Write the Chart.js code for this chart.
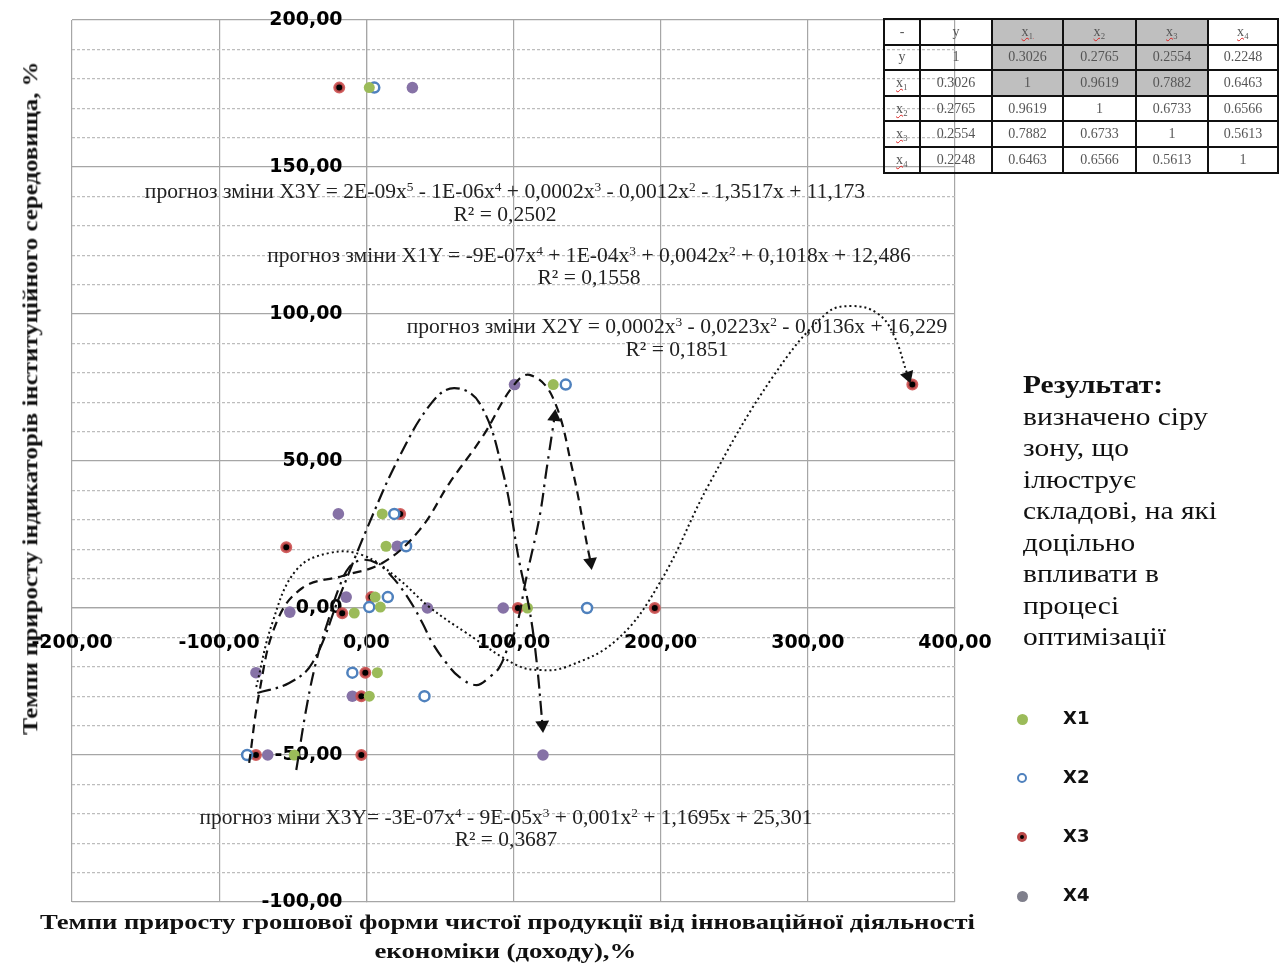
<!DOCTYPE html>
<html><head><meta charset="utf-8">
<script src="https://cdn.jsdelivr.net/npm/chart.js@4.4.1/dist/chart.umd.min.js"></script>
<style>
html,body{margin:0;padding:0;background:#fff;}
#wrap{position:relative;width:1285px;height:963px;overflow:hidden;}
#c{position:absolute;left:0;top:0;}
.eq{position:absolute;font-family:"Liberation Serif","Times New Roman",serif;font-size:18px;color:#222;white-space:nowrap;line-height:22px;transform:translate(-50%,-50%);}
.eq sup{font-size:0.62em;vertical-align:0.55em;line-height:0;}
.ttl{position:absolute;font-family:"Liberation Serif","Times New Roman",serif;font-weight:bold;font-size:22px;color:#111;white-space:nowrap;line-height:26px;}
#res{position:absolute;left:1023px;top:369px;font-family:"Liberation Serif","Times New Roman",serif;font-size:26px;line-height:31.5px;color:#111;white-space:nowrap;transform-origin:0 0;}
#res b{font-weight:bold;}
.lg{position:absolute;font-family:"DejaVu Sans",sans-serif;font-weight:bold;font-size:18px;color:#111;}
.mk{position:absolute;border-radius:50%;box-sizing:border-box;}
#tbl{position:absolute;left:883px;top:18px;border-collapse:collapse;font-family:"Liberation Serif","Times New Roman",serif;font-size:14px;color:#555;}
#tbl td{border:2px solid #111;text-align:center;padding:0;height:23.6px;}
#tbl td.g{background:#BFBFBF;}
.sp{text-decoration:underline wavy #d22;text-decoration-thickness:1px;}
</style></head>
<body><div id="wrap">
<canvas id="c" width="1285" height="963"></canvas>
</div>
<script>
// ---- data ----
const xTickLabels = [-200, -100, 0, 100, 200, 300, 400];
const yTickLabels = [-100, -50, 0, 50, 100, 150, 200];
const yMinorStep = 10;

const x1X = [2, 127, 10.8, 13.4, 6, -8.2, 9.5, 109.5, 7.5, 2, -49];
const x1Y = [177, 76, 32, 21, 3.7, -1.7, 0.3, 0, -22, -30, -50];
const x2X = [5.4, 135.5, 19, 27, 14.6, 2, 150, -9.5, 39.5, -81];
const x2Y = [177, 76, 32, 21, 3.7, 0.3, 0, -22, -30, -50];
const x3X = [-18.4, 371, 23, -54.4, 3.4, -16.4, 103, 196, -0.7, -3.4, -75, -3.4];
const x3Y = [177, 76, 32, 20.7, 3.7, -1.8, 0, 0, -22, -30, -50, -50];
const x4X = [31.3, 100.7, -19, 21, -13.7, -52, 41.5, 93, -75, -9.5, -67, 120];
const x4Y = [177, 76, 32, 21, 3.7, -1.4, 0, 0, -22, -30, -50, -50];

// hand-drawn forecast curves
const curveDotX = [-74.8, -63.9, -47.6, -25.2, -2.7, 20.4, 42.9, 68, 102, 117.7, 136, 170, 199.3, 233.3, 276.2, 312.9, 330.6, 347, 357.8, 368];
const curveDotY = [-26.9, -5.1, 12.9, 18.7, 18, 10.5, 0.3, -8.5, -19.4, -21.1, -20, -10.9, 8.5, 42.5, 78.6, 100.3, 102.7, 100.3, 93.5, 78.9];
const curveDashDotX = [-74.1, -52.4, -36.7, -18.4, 0, 22.4, 44.9, 59.9, 76.9, 92.5, 104.1, 110.9, 115.6, 119.7];
const curveDashDotY = [-28.9, -25.5, -18.7, 3.7, 26.5, 51.4, 70.1, 74.8, 69.7, 46.9, 15.3, -0.7, -17.7, -39.8];
const curveDashX = [-79.6, -72.8, -61.2, -43.5, -16.3, 10.9, 36.1, 56.5, 78.9, 99.3, 110.9, 126.5, 140.1, 150.3, 152.4];
const curveDashY = [-52.7, -28.9, -5.1, 6.8, 10.9, 15.3, 26.5, 42.5, 58.2, 75.2, 79.3, 71.8, 46.9, 20.7, 15.6];
const curveLongX = [-47.6, -40.1, -33.3, -25.2, -18.4, -11.6, -3.4, 6.8, 17.7, 29.3, 38.1, 44.9, 54.4, 63.3, 74.8, 83.7, 90.5, 97.3, 102, 108.8, 117.7, 122.4, 127.9];
const curveLongY = [-55.1, -32.3, -16.7, -3.1, 7.1, 13.9, 16.3, 15.3, 10.5, 2.7, -5.1, -11.9, -18.7, -23.5, -26.2, -23.5, -20.1, -11.9, -6.5, 10.5, 31, 46.9, 65];

const seriesNames = ['X1', 'X2', 'X3', 'X4'];
const equations = [
  ['прогноз зміни X3Y = 2E-09x<sup>5</sup> - 1E-06x<sup>4</sup> + 0,0002x<sup>3</sup> - 0,0012x<sup>2</sup> - 1,3517x + 11,173', 'R² = 0,2502'],
  ['прогноз зміни X1Y = -9E-07x<sup>4</sup> + 1E-04x<sup>3</sup> + 0,0042x<sup>2</sup> + 0,1018x + 12,486', 'R² = 0,1558'],
  ['прогноз зміни X2Y = 0,0002x<sup>3</sup> - 0,0223x<sup>2</sup> - 0,0136x + 16,229', 'R² = 0,1851'],
  ['прогноз міни X3Y= -3E-07x<sup>4</sup> - 9E-05x<sup>3</sup> + 0,001x<sup>2</sup> + 1,1695x + 25,301', 'R² = 0,3687']
];
const tableHead = ['-', 'y', 'x₁', 'x₂', 'x₃', 'x₄'];
const tableRows = [
  ['y', '1', '0.3026', '0.2765', '0.2554', '0.2248'],
  ['x₁', '0.3026', '1', '0.9619', '0.7882', '0.6463'],
  ['x₂', '0.2765', '0.9619', '1', '0.6733', '0.6566'],
  ['x₃', '0.2554', '0.7882', '0.6733', '1', '0.5613'],
  ['x₄', '0.2248', '0.6463', '0.6566', '0.5613', '1']
];
const resultTitle = 'Результат:';
const resultLines = ['визначено сіру', 'зону, що', 'ілюструє', 'складові, на які', 'доцільно', 'впливати в', 'процесі', 'оптимізації'];
const xTitle = ['Темпи приросту грошової форми чистої продукції від інноваційної діяльності', 'економіки (доходу),%'];
const yTitle = 'Темпи приросту індикаторів інституційного середовища, %';

// ---- helpers ----
const pts = (xs, ys) => xs.map((x, i) => ({x: x, y: ys[i]}));
const fmt = v => v.toFixed(2).replace('.', ',');
const Y_LABEL_GAP = '\u2003\u2005'; // keeps y labels clear of the vertical axis

function curve(xs, ys, dash, rot, width) {
  return {
    type: 'line', data: pts(xs, ys), borderColor: '#111', borderWidth: width || 2.2,
    borderDash: dash, tension: 0.4, fill: false, order: 0,
    pointStyle: 'triangle', rotation: rot, backgroundColor: '#111', borderCapStyle: 'butt',
    pointBorderWidth: 0,
    pointRadius: ctx => ctx.dataIndex === ctx.dataset.data.length - 1 ? 8 : 0,
    pointHoverRadius: 0
  };
}

const ds = [
  {type: 'scatter', label: 'X1', data: pts(x1X, x1Y), pointRadius: 5.5, backgroundColor: '#9BBB59', borderColor: '#9BBB59', borderWidth: 0, order: 1},
  {type: 'scatter', label: 'X2', data: pts(x2X, x2Y), pointRadius: 5, backgroundColor: '#ffffff', borderColor: '#4F81BD', borderWidth: 2.5, order: 1},
  {type: 'scatter', label: 'X3', data: pts(x3X, x3Y), pointRadius: 4.5, backgroundColor: '#000000', borderColor: 'rgba(205,80,80,0.9)', borderWidth: 3, order: 1},
  {type: 'scatter', label: 'X4', data: pts(x4X, x4Y), pointRadius: 5.8, backgroundColor: '#8672A6', borderColor: '#8672A6', borderWidth: 0, order: 1},
  curve(curveDotX, curveDotY, [2, 3], 161, 2),
  curve(curveDashDotX, curveDashDotY, [14, 5, 2.5, 5], 176),
  curve(curveDashX, curveDashY, [9, 6], 172),
  curve(curveLongX, curveLongY, [14, 6, 2.5, 6], 6)
];

new Chart(document.getElementById('c'), {
  type: 'scatter',
  data: {datasets: ds},
  options: {
    responsive: false, animation: false, devicePixelRatio: 1,
    layout: {padding: {left: 72, top: 20, right: 330, bottom: 61}},
    plugins: {legend: {display: false}, tooltip: {enabled: false}, title: {display: false}},
    scales: {
      x: {
        type: 'linear', min: -200, max: 400, position: {y: 0},
        afterBuildTicks: s => { s.ticks = xTickLabels.map(v => ({value: v})); },
        ticks: {callback: v => fmt(v), font: {family: 'DejaVu Sans', weight: 'bold', size: 19}, color: '#000', padding: 24, maxRotation: 0, autoSkip: false},
        grid: {color: '#A6A6A6', lineWidth: 1.2, drawTicks: false},
        border: {display: true, color: '#A6A6A6', width: 1.2}
      },
      y: {
        type: 'linear', min: -100, max: 200, position: {x: 0},
        ticks: {stepSize: yMinorStep, autoSkip: false,
          callback: v => yTickLabels.includes(Math.round(v)) ? fmt(v) + Y_LABEL_GAP : '',
          font: {family: 'DejaVu Sans', weight: 'bold', size: 19}, color: '#000', padding: 0},
        grid: {drawTicks: false, lineWidth: 1.2,
          color: ctx => (ctx.tick && !yTickLabels.includes(Math.round(ctx.tick.value))) ? '#BDBDBD' : '#A6A6A6'},
        border: {display: true, color: '#A6A6A6', width: 1.2,
          dash: ctx => (ctx.tick && !yTickLabels.includes(Math.round(ctx.tick.value))) ? [3, 2] : []}
      }
    }
  }
});

// ---- overlays ----
const wrap = document.getElementById('wrap');
function add(html, cls, style) {
  const d = document.createElement('div');
  d.className = cls; d.innerHTML = html; Object.assign(d.style, style || {});
  wrap.appendChild(d); return d;
}
// equations: [centerX, line1 centerY, line2 centerY, target width of line1]
const eqPos = [[505, 191, 214, 721], [589, 255, 277, 644], [677, 326, 349, 541], [506, 817, 839, 613]];
equations.forEach((e, i) => {
  const p = eqPos[i];
  const a = add(e[0], 'eq', {left: p[0] + 'px', top: p[1] + 'px'});
  const w = a.getBoundingClientRect().width;
  const fs = 18 * p[3] / w;
  a.style.fontSize = fs + 'px';
  add(e[1], 'eq', {left: p[0] + 'px', top: p[2] + 'px', fontSize: fs + 'px'});
});
// axis titles
function fitTitle(txt, cx, cy, target, rotate) {
  const d = add(txt, 'ttl', {left: '0px', top: '0px'});
  const r = d.getBoundingClientRect();
  const sx = target / r.width;
  d.style.left = (cx - r.width / 2) + 'px';
  d.style.top = (cy - r.height / 2) + 'px';
  d.style.transformOrigin = '50% 50%';
  d.style.transform = (rotate ? 'rotate(-90deg) ' : '') + 'scaleX(' + sx + ')';
}
fitTitle(xTitle[0], 508, 922, 935, false);
fitTitle(xTitle[1], 505, 951, 262, false);
fitTitle(yTitle, 30, 398, 673, true);
// result text
const res = add('<b>' + resultTitle + '</b><br>' + resultLines.map((l, i) => '<span id="rl' + i + '">' + l + '</span>').join('<br>'), '', {});
res.id = 'res';
const widest = document.getElementById('rl3').getBoundingClientRect().width;
res.style.transform = 'scaleX(' + (194 / widest) + ')';
// legend
const lgY = [719, 778, 837, 896];
const mkStyle = [
  {background: '#9BBB59', width: '11px', height: '11px'},
  {background: '#fff', border: '2.5px solid #4F81BD', width: '10px', height: '10px'},
  {background: '#000', border: '3px solid rgba(205,80,80,0.9)', width: '10px', height: '10px'},
  {background: '#7F7F8C', width: '11px', height: '11px'}
];
seriesNames.forEach((n, i) => {
  const s = mkStyle[i]; const w = parseFloat(s.width);
  add('', 'mk', Object.assign({left: (1022 - w / 2) + 'px', top: (lgY[i] - w / 2) + 'px'}, s));
  add(n, 'lg', {left: '1063px', top: (lgY[i] - 12) + 'px'});
});
// correlation table
const colW = [34, 70, 69, 71, 70, 68];
const grey = (r, c) => (r <= 2 && c >= 2 && c <= 4);
let h = '<table id="tbl"><tr>' + tableHead.map((t, c) => '<td style="width:' + colW[c] + 'px" class="' + (grey(0, c) ? 'g' : '') + '">' + (t.startsWith('x') ? '<span class="sp">' + t + '</span>' : t) + '</td>').join('') + '</tr>';
tableRows.forEach((row, r) => {
  h += '<tr>' + row.map((t, c) => '<td class="' + (grey(r + 1, c) ? 'g' : '') + '">' + (t.startsWith('x') ? '<span class="sp">' + t + '</span>' : t) + '</td>').join('') + '</tr>';
});
h += '</table>';
wrap.insertAdjacentHTML('beforeend', h);
</script>
</body></html>
